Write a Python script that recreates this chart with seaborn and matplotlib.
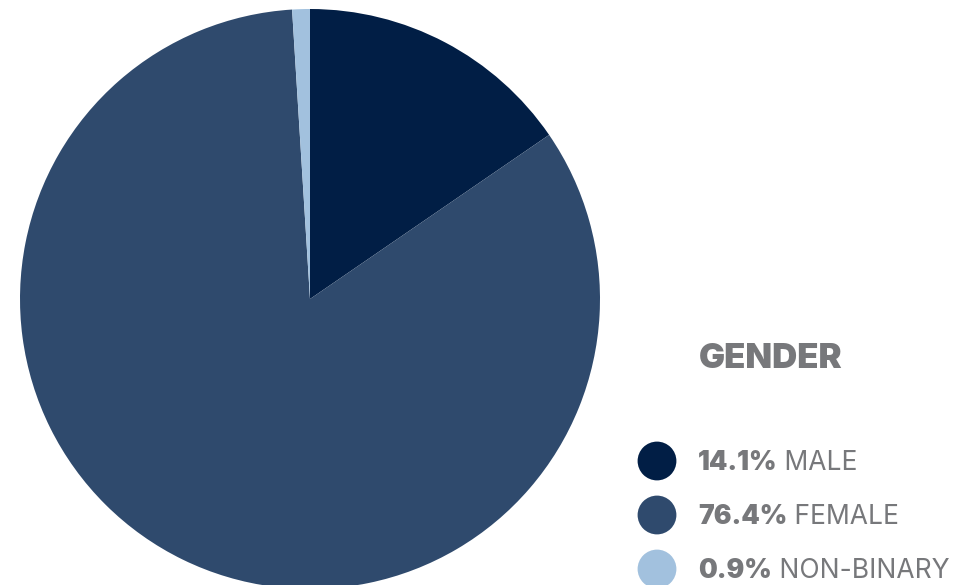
import matplotlib.pyplot as plt
import seaborn as sns

# Gender split (percent as shown in the legend)
genders = ["MALE", "FEMALE", "NON-BINARY"]
shares = [14.1, 76.4, 0.9]
colors = ["#011e45", "#2f4a6d", "#a2c1de"]
title = "GENDER"

sns.set_theme(style="white")
plt.rcParams["font.family"] = ["Inter", "DejaVu Sans"]
gray = "#77787b"

W, H = 954, 585
fig = plt.figure(figsize=(W / 100, H / 100), dpi=100)

# pie axes: centre (310, 299) px, radius 290 px
cx, cy, r = 310, 299, 290
ax = fig.add_axes([(cx - r) / W, (H - cy - r) / H, 2 * r / W, 2 * r / H])
ax.pie(shares, colors=colors, startangle=90, counterclock=False, radius=1,
       wedgeprops=dict(linewidth=0))
ax.set_xlim(-1, 1)
ax.set_ylim(-1, 1)
ax.set_aspect("equal")
ax.axis("off")

# overlay axes in pixel units for the legend
lg = fig.add_axes([0, 0, 1, 1])
lg.set_xlim(0, W)
lg.set_ylim(H, 0)
lg.axis("off")

lg.text(699, 359, title, fontsize=25, fontweight=900, color=gray,
        va="center", ha="left")

rows_y = [461, 515, 569]
lg.scatter([657] * len(genders), rows_y, s=780, c=colors, linewidths=0,
           clip_on=False)

for g, v, y in zip(genders, shares, rows_y):
    t = lg.text(698, y + 2, f"{v}%", fontsize=19, fontweight=900, color=gray,
                va="center", ha="left")
    lg.annotate(" " + g, xy=(1, 0.5), xycoords=t, fontsize=19, color=gray,
                va="center", ha="left")

fig.savefig("out.png", dpi=100)
